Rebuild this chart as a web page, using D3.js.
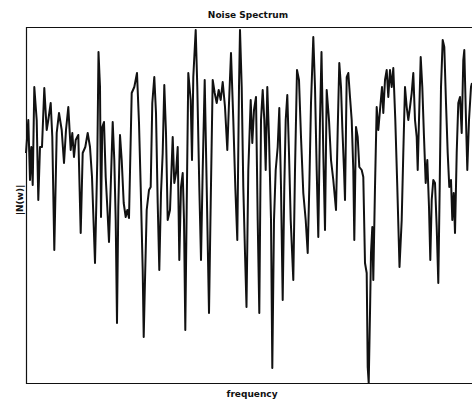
<!DOCTYPE html>
<html>
<head>
<meta charset="utf-8">
<script src="https://cdn.jsdelivr.net/npm/d3@7/dist/d3.min.js"></script>
<style>
  html, body { margin: 0; padding: 0; background: #fff; }
  svg { display: block; }
  text { font-family: "DejaVu Sans", "Liberation Sans", sans-serif; fill: #111; }
</style>
</head>
<body>
<svg id="chart" width="472" height="404"></svg>
<script>
// Sampled noise spectrum magnitude |N(w)| against frequency (arbitrary units)
const frequency = [
  0, 2.3, 4, 5.3, 6.7, 8.3, 10.7, 12.3, 14, 16,
  18.3, 20.7, 22.3, 24.7, 26.3, 28.3, 30.7, 33, 35.7, 38,
  40, 42.3, 44.7, 46.3, 48, 49.7, 52.3, 54.7, 56.7, 59.3,
  61.7, 64, 66, 69, 71.3, 72.5, 74, 75, 76.3, 78,
  79.7, 81.3, 83, 84.7, 86.7, 88.3, 89.7, 91, 92.3, 94,
  95.7, 97.7, 99.7, 101.3, 103, 105.7, 108.3, 111, 113, 114.7,
  116.7, 117.7, 119, 120.7, 123, 124.7, 126.3, 128.3, 130, 131.7,
  133.3, 135, 136.7, 138.3, 140, 141.7, 144, 146.7, 148.3, 150,
  151.7, 153.3, 155, 156.7, 158, 159.3, 160.7, 162.3, 164.7, 166,
  167.3, 169.7, 171.3, 173.3, 175, 176.7, 178.7, 180.7, 183, 184.7,
  186.7, 188.7, 190.7, 192.7, 194.7, 196.7, 199, 201.3, 203, 205,
  207.3, 209.3, 211.3, 213, 214, 215.7, 217.3, 219, 220.5, 222.3,
  224.7, 226.3, 228, 230, 231.7, 233.3, 235, 236.7, 238.3, 239.7,
  241.3, 243, 245, 246.3, 248, 249.7, 251.7, 253.3, 255, 256.7,
  258.3, 259.7, 261.3, 263, 264.7, 267.3, 269, 271, 273, 275,
  277.3, 279.7, 281.7, 283.3, 285, 287.3, 289, 290.7, 292.3, 294,
  295.5, 297.3, 299, 300.7, 303, 305, 307.3, 310, 311.7, 313.3,
  315, 316.3, 318, 319, 320.7, 322.3, 324, 325.7, 327.3, 328.3,
  330, 331.7, 333.3, 335.7, 337.3, 339, 340.7, 341.7, 342.7, 344,
  345, 346.3, 347.3, 349, 350.7, 352.3, 354, 356, 357.3, 359,
  360.7, 362.3, 364, 365.7, 367.3, 369.3, 371.3, 373.5, 375.7, 377.3,
  379, 380.7, 382.3, 384, 385.7, 387.3, 389, 390.7, 391.7, 393,
  394.7, 396.3, 398, 399.7, 401.3, 403, 404.3, 405.7, 407.3, 409,
  410.7, 412.3, 413.7, 415, 416.7, 418.3, 420, 421.7, 423.3, 425,
  426.3, 427.7, 429, 430.7, 432.3, 434, 435.7, 437.3, 438.3, 440,
  441.3, 443, 445, 446
];

const magnitude = [
  2.30, 2.63, 2.03, 2.36, 1.98, 2.96, 2.63, 1.83, 2.36, 2.36,
  2.95, 2.53, 2.63, 2.80, 2.46, 1.33, 2.50, 2.70, 2.53, 2.20,
  2.53, 2.76, 2.33, 2.50, 2.26, 2.43, 2.48, 1.50, 2.30, 2.36,
  2.50, 2.36, 2.06, 1.20, 2.23, 3.31, 2.96, 1.66, 2.56, 2.61,
  2.06, 1.76, 1.41, 1.96, 2.61, 2.23, 1.63, 0.60, 1.76, 2.48,
  2.23, 1.80, 1.66, 1.73, 1.65, 2.90, 2.96, 3.10, 2.60, 1.96,
  1.13, 0.46, 1.03, 1.73, 1.93, 1.96, 2.80, 3.06, 2.70, 1.80,
  1.13, 1.90, 2.30, 2.98, 2.50, 1.63, 1.73, 2.46, 2.00, 2.10,
  2.36, 1.23, 1.96, 2.10, 1.63, 0.53, 1.76, 3.10, 2.83, 2.23,
  3.06, 3.53, 2.96, 1.96, 1.23, 2.13, 3.03, 1.96, 0.70, 1.80,
  3.03, 2.90, 2.80, 2.93, 2.83, 3.01, 2.76, 2.33, 2.80, 3.30,
  2.63, 1.96, 1.43, 2.96, 3.53, 2.96, 1.96, 1.30, 0.76, 2.13,
  2.83, 2.40, 2.73, 2.86, 1.63, 0.70, 2.63, 2.93, 2.63, 2.13,
  2.96, 2.46, 1.63, 0.15, 1.63, 2.13, 2.36, 2.75, 1.96, 0.83,
  1.96, 2.63, 2.88, 2.30, 1.63, 1.03, 2.13, 3.13, 3.03, 2.46,
  1.90, 1.63, 1.30, 1.96, 2.80, 3.46, 2.96, 2.13, 1.46, 2.63,
  3.31, 2.30, 1.53, 2.93, 2.63, 2.23, 2.03, 1.73, 2.53, 3.20,
  2.96, 2.56, 2.13, 1.83, 3.06, 3.10, 2.86, 2.63, 2.13, 1.43,
  2.56, 2.46, 2.16, 2.13, 2.06, 1.20, 1.10, 0.16, 0.00, 0.70,
  1.30, 1.56, 1.03, 1.96, 2.76, 2.53, 2.73, 2.96, 2.70, 3.03,
  3.13, 2.86, 3.13, 2.96, 3.15, 2.63, 1.96, 1.16, 1.63, 2.30,
  2.96, 2.76, 2.63, 2.76, 2.90, 3.10, 2.63, 2.46, 2.13, 2.63,
  3.26, 2.96, 2.46, 2.00, 2.23, 1.76, 1.23, 1.83, 2.03, 2.00,
  1.56, 1.00, 1.96, 2.96, 3.43, 3.36, 2.80, 2.30, 1.96, 2.03,
  1.63, 1.90, 1.50, 2.30, 2.80, 2.86, 2.50, 3.23, 3.33, 2.63,
  2.13, 2.63, 2.96, 3.00
];

const titleText = "Noise Spectrum";
const xLabel = "frequency";
const yLabel = "|N(w)|";

const svg = d3.select("#chart");
const plot = { left: 26, top: 27, right: 476, bottom: 383 };

const x = d3.scaleLinear().domain([0, 450]).range([plot.left, plot.right]);
const y = d3.scaleLinear().domain([0, 3.56]).range([plot.bottom, plot.top]);

const points = frequency.map((f, i) => [f, magnitude[i]]);

// Frame: left, top and bottom edges of the plotting area
svg.append("path")
  .attr("d", `M${plot.right},${plot.top + 0.5}H${plot.left + 0.5}V${plot.bottom + 0.5}H${plot.right}`)
  .attr("fill", "none")
  .attr("stroke", "#111")
  .attr("stroke-width", 1.2);

// Spectrum trace
svg.append("path")
  .datum(points)
  .attr("d", d3.line().x(d => x(d[0])).y(d => y(d[1])))
  .attr("fill", "none")
  .attr("stroke", "#111")
  .attr("stroke-width", 2)
  .attr("stroke-linejoin", "round");

svg.append("text")
  .attr("x", 248).attr("y", 17.5)
  .attr("text-anchor", "middle")
  .attr("font-size", 9).attr("font-weight", "bold")
  .text(titleText);

svg.append("text")
  .attr("x", 252).attr("y", 397)
  .attr("text-anchor", "middle")
  .attr("font-size", 9).attr("font-weight", "bold")
  .text(xLabel);

svg.append("text")
  .attr("transform", "translate(23,200) rotate(-90)")
  .attr("text-anchor", "middle")
  .attr("font-size", 9).attr("font-weight", "bold")
  .text(yLabel);
</script>
</body>
</html>
